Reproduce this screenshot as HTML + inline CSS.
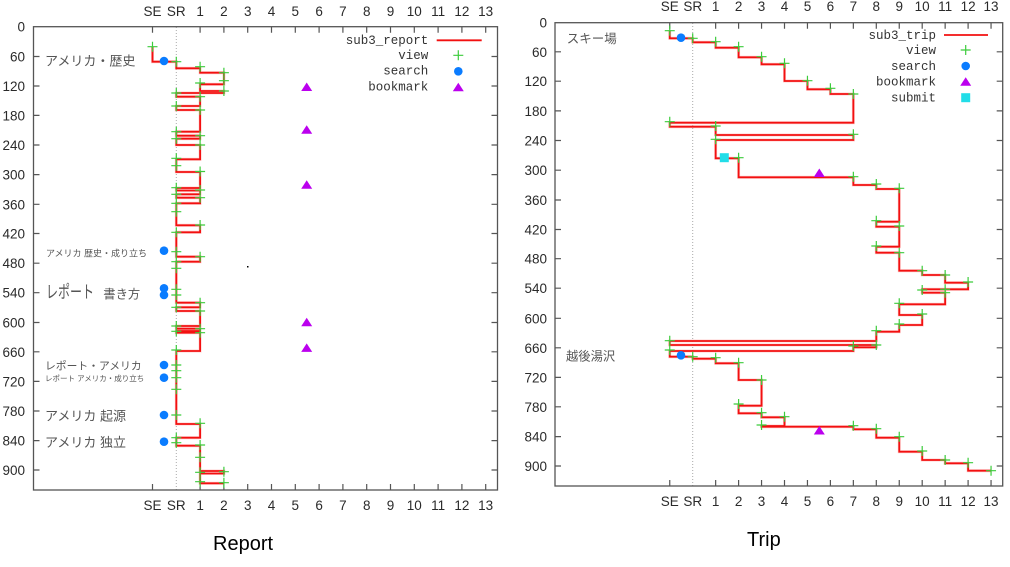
<!DOCTYPE html>
<html><head><meta charset="utf-8"><style>
html,body{margin:0;padding:0;background:#fff;}
svg{display:block;}
.t{font-family:"Liberation Sans",sans-serif;font-size:13.5px;fill:#2a2a2a;}
.lg{font-family:"Liberation Mono",monospace;font-size:12.5px;fill:#333;}
.jp{font-family:"Liberation Sans","Noto Sans CJK JP",sans-serif;fill:#555;}
.cap{font-family:"Liberation Sans",sans-serif;font-size:20px;fill:#000;}
</style></head><body>
<svg width="1010" height="567" viewBox="0 0 1010 567" xmlns="http://www.w3.org/2000/svg">
<defs>
<path id="pl" d="M-5 0h10M0 -5v10"/>
<path id="tr" d="M-5.5 4L5.5 4L0 -4.5Z"/>
</defs>
<rect width="1010" height="567" fill="#fff"/>

<!-- ============ LEFT PLOT ============ -->
<line x1="176.3" y1="27" x2="176.3" y2="490" stroke="#aaa" stroke-width="1" stroke-dasharray="1,2"/>
<rect x="33.5" y="26.7" width="464" height="463.3" fill="none" stroke="#555" stroke-width="1.3"/>
<path fill="none" stroke="#555" stroke-width="1.2" d="
M152.5 26.7v6M200.1 26.7v6M223.9 26.7v6M247.7 26.7v6M271.5 26.7v6M295.3 26.7v6M319.1 26.7v6M342.9 26.7v6M366.7 26.7v6M390.5 26.7v6M414.3 26.7v6M438.1 26.7v6M461.9 26.7v6M485.7 26.7v6
M152.5 490v-6M200.1 490v-6M223.9 490v-6M247.7 490v-6M271.5 490v-6M295.3 490v-6M319.1 490v-6M342.9 490v-6M366.7 490v-6M390.5 490v-6M414.3 490v-6M438.1 490v-6M461.9 490v-6M485.7 490v-6
M33.5 56.5h6M33.5 86h6M33.5 115.4h6M33.5 145h6M33.5 174.6h6M33.5 204.3h6M33.5 233.5h6M33.5 263.2h6M33.5 292.7h6M33.5 322.5h6M33.5 351.8h6M33.5 381.4h6M33.5 411h6M33.5 440.6h6M33.5 470h6
M497.5 56.5h-6M497.5 86h-6M497.5 115.4h-6M497.5 145h-6M497.5 174.6h-6M497.5 204.3h-6M497.5 233.5h-6M497.5 263.2h-6M497.5 292.7h-6M497.5 322.5h-6M497.5 351.8h-6M497.5 381.4h-6M497.5 411h-6M497.5 440.6h-6M497.5 470h-6"/>

<g class="t" text-anchor="end">
<text x="25" y="31.7">0</text><text x="25" y="61.5">60</text><text x="25" y="91">120</text><text x="25" y="120.4">180</text><text x="25" y="150">240</text><text x="25" y="179.6">300</text><text x="25" y="209.3">360</text><text x="25" y="238.5">420</text><text x="25" y="268.2">480</text><text x="25" y="297.7">540</text><text x="25" y="327.5">600</text><text x="25" y="356.8">660</text><text x="25" y="386.4">720</text><text x="25" y="416">780</text><text x="25" y="445.6">840</text><text x="25" y="475">900</text>
</g>
<g class="t" text-anchor="middle">
<text x="152.5" y="16">SE</text><text x="176.3" y="16">SR</text><text x="200.1" y="16">1</text><text x="223.9" y="16">2</text><text x="247.7" y="16">3</text><text x="271.5" y="16">4</text><text x="295.3" y="16">5</text><text x="319.1" y="16">6</text><text x="342.9" y="16">7</text><text x="366.7" y="16">8</text><text x="390.5" y="16">9</text><text x="414.3" y="16">10</text><text x="438.1" y="16">11</text><text x="461.9" y="16">12</text><text x="485.7" y="16">13</text>
<text x="152.5" y="510">SE</text><text x="176.3" y="510">SR</text><text x="200.1" y="510">1</text><text x="223.9" y="510">2</text><text x="247.7" y="510">3</text><text x="271.5" y="510">4</text><text x="295.3" y="510">5</text><text x="319.1" y="510">6</text><text x="342.9" y="510">7</text><text x="366.7" y="510">8</text><text x="390.5" y="510">9</text><text x="414.3" y="510">10</text><text x="438.1" y="510">11</text><text x="461.9" y="510">12</text><text x="485.7" y="510">13</text>
</g>

<!-- annotations left -->
<text class="jp" x="45" y="65.5" font-size="13">アメリカ・歴史</text>
<text class="jp" x="46" y="256.5" font-size="9">アメリカ 歴史・成り立ち</text>
<text class="jp" font-size="12" transform="translate(46,298) scale(1,1.45)">レポート</text>
<text class="jp" x="103.3" y="298.5" font-size="12.3">書き方</text>
<text class="jp" x="45" y="369.5" font-size="10.8">レポート・アメリカ</text>
<text class="jp" x="45" y="381" font-size="7.5">レポート アメリカ・成り立ち</text>
<text class="jp" x="45" y="420.5" font-size="13">アメリカ 起源</text>
<text class="jp" x="45" y="447" font-size="13">アメリカ 独立</text>

<!-- series left -->
<path fill="none" stroke="#ffb0b0" stroke-width="3" d="M152.5 46.7V61.7H176.3V68.3H200.1V72.7H223.9V84.3H200.1V91H223.9V93H176.3V96.7H200.1V106H176.3V110H200.1V131.7H176.3V135.7H200.1V138.7H176.3V145H200.1V159.3H176.3V172H200.1V188H176.3V190.5H200.1V194.3H176.3V197.7H200.1V203.3H176.3V225.3H200.1V232.3H176.3V256.7H200.1V261.7H176.3V302.7H200.1V307.3H176.3V311H200.1V326H176.3V328.7H200.1V331H176.3V332.7H200.1V351H176.3V424H200.1V437.7H176.3V445.7H200.1V471H223.9V473.5H200.1V483.3H223.9" opacity="0.6"/>
<path fill="none" stroke="#f21010" stroke-width="1.8" d="M152.5 46.7V61.7H176.3V68.3H200.1V72.7H223.9V84.3H200.1V91H223.9V93H176.3V96.7H200.1V106H176.3V110H200.1V131.7H176.3V135.7H200.1V138.7H176.3V145H200.1V159.3H176.3V172H200.1V188H176.3V190.5H200.1V194.3H176.3V197.7H200.1V203.3H176.3V225.3H200.1V232.3H176.3V256.7H200.1V261.7H176.3V302.7H200.1V307.3H176.3V311H200.1V326H176.3V328.7H200.1V331H176.3V332.7H200.1V351H176.3V424H200.1V437.7H176.3V445.7H200.1V471H223.9V473.5H200.1V483.3H223.9"/>
<g stroke="#3ccc3c" stroke-width="1.2" fill="none">
<use href="#pl" x="152.5" y="46.7"/><use href="#pl" x="176.3" y="61.7"/><use href="#pl" x="200.1" y="66.7"/><use href="#pl" x="223.9" y="72.7"/><use href="#pl" x="223.9" y="80.7"/><use href="#pl" x="200.1" y="83"/><use href="#pl" x="223.9" y="91"/><use href="#pl" x="176.3" y="93"/><use href="#pl" x="200.1" y="96.7"/><use href="#pl" x="176.3" y="106"/><use href="#pl" x="200.1" y="110"/><use href="#pl" x="176.3" y="131.7"/><use href="#pl" x="200.1" y="135.7"/><use href="#pl" x="176.3" y="138.7"/><use href="#pl" x="200.1" y="145"/><use href="#pl" x="176.3" y="158.3"/><use href="#pl" x="176.3" y="165.7"/><use href="#pl" x="200.1" y="171.5"/><use href="#pl" x="176.3" y="187.7"/><use href="#pl" x="200.1" y="190"/><use href="#pl" x="176.3" y="194.3"/><use href="#pl" x="200.1" y="197.7"/><use href="#pl" x="176.3" y="203.3"/><use href="#pl" x="176.3" y="211.7"/><use href="#pl" x="200.1" y="225"/><use href="#pl" x="176.3" y="232.3"/><use href="#pl" x="176.3" y="251.7"/><use href="#pl" x="200.1" y="256.7"/><use href="#pl" x="176.3" y="261.7"/><use href="#pl" x="176.3" y="268.3"/><use href="#pl" x="176.3" y="289.3"/><use href="#pl" x="176.3" y="295"/><use href="#pl" x="200.1" y="302.7"/><use href="#pl" x="176.3" y="307.3"/><use href="#pl" x="200.1" y="311"/><use href="#pl" x="176.3" y="326"/><use href="#pl" x="200.1" y="328.7"/><use href="#pl" x="176.3" y="331.3"/><use href="#pl" x="200.1" y="332.7"/><use href="#pl" x="176.3" y="350"/><use href="#pl" x="176.3" y="365"/><use href="#pl" x="176.3" y="370.7"/><use href="#pl" x="176.3" y="377.7"/><use href="#pl" x="176.3" y="389.3"/><use href="#pl" x="176.3" y="415"/><use href="#pl" x="200.1" y="423.3"/><use href="#pl" x="176.3" y="437.7"/><use href="#pl" x="176.3" y="442.7"/><use href="#pl" x="200.1" y="445"/><use href="#pl" x="200.1" y="457.3"/><use href="#pl" x="223.9" y="471.7"/><use href="#pl" x="200.1" y="472.3"/><use href="#pl" x="200.1" y="481.7"/><use href="#pl" x="223.9" y="482.7"/>
</g>
<g fill="#0a7cff">
<circle cx="164" cy="61" r="4.3"/><circle cx="164" cy="250.7" r="4.3"/><circle cx="164" cy="288.3" r="4.3"/><circle cx="164" cy="295" r="4.3"/><circle cx="164" cy="365" r="4.3"/><circle cx="164" cy="377.7" r="4.3"/><circle cx="164" cy="415" r="4.3"/><circle cx="164" cy="441.7" r="4.3"/>
</g>
<g fill="#bb00ee">
<use href="#tr" x="306.7" y="87"/><use href="#tr" x="306.7" y="129.7"/><use href="#tr" x="306.7" y="184.7"/><use href="#tr" x="306.7" y="322.2"/><use href="#tr" x="306.7" y="347.9"/>
</g>
<rect x="247" y="266" width="1.5" height="1.5" fill="#000"/>

<!-- legend left -->
<g class="lg" text-anchor="end">
<text x="428.3" y="44">sub3_report</text>
<text x="428.3" y="59">view</text>
<text x="428.3" y="74.7">search</text>
<text x="428.3" y="90.7">bookmark</text>
</g>
<line x1="436.7" y1="40.3" x2="481.7" y2="40.3" stroke="#f21010" stroke-width="1.8"/>
<use href="#pl" x="458.3" y="55.3" stroke="#3ccc3c" stroke-width="1.2"/>
<circle cx="458.3" cy="71.3" r="4.3" fill="#0a7cff"/>
<use href="#tr" x="458.3" y="87.3" fill="#bb00ee"/>

<text class="cap" x="213" y="550">Report</text>

<!-- ============ RIGHT PLOT ============ -->
<line x1="692.7" y1="23" x2="692.7" y2="486" stroke="#aaa" stroke-width="1" stroke-dasharray="1,2"/>
<rect x="555" y="22.7" width="447.7" height="463.3" fill="none" stroke="#555" stroke-width="1.3"/>
<path fill="none" stroke="#555" stroke-width="1.2" d="
M669.75 22.7v6M715.65 22.7v6M738.6 22.7v6M761.55 22.7v6M784.5 22.7v6M807.45 22.7v6M830.4 22.7v6M853.35 22.7v6M876.3 22.7v6M899.25 22.7v6M922.2 22.7v6M945.15 22.7v6M968.1 22.7v6M991.05 22.7v6
M669.75 486v-6M715.65 486v-6M738.6 486v-6M761.55 486v-6M784.5 486v-6M807.45 486v-6M830.4 486v-6M853.35 486v-6M876.3 486v-6M899.25 486v-6M922.2 486v-6M945.15 486v-6M968.1 486v-6M991.05 486v-6
M555 51.8h6M555 81.2h6M555 110.9h6M555 140.5h6M555 170.2h6M555 200h6M555 229.5h6M555 258.7h6M555 288.2h6M555 318.3h6M555 347.8h6M555 377.4h6M555 406.8h6M555 436.6h6M555 466h6
M1002.7 51.8h-6M1002.7 81.2h-6M1002.7 110.9h-6M1002.7 140.5h-6M1002.7 170.2h-6M1002.7 200h-6M1002.7 229.5h-6M1002.7 258.7h-6M1002.7 288.2h-6M1002.7 318.3h-6M1002.7 347.8h-6M1002.7 377.4h-6M1002.7 406.8h-6M1002.7 436.6h-6M1002.7 466h-6"/>

<g class="t" text-anchor="end">
<text x="547" y="27.7">0</text><text x="547" y="56.8">60</text><text x="547" y="86.2">120</text><text x="547" y="115.9">180</text><text x="547" y="145.5">240</text><text x="547" y="175.2">300</text><text x="547" y="205">360</text><text x="547" y="234.5">420</text><text x="547" y="263.7">480</text><text x="547" y="293.2">540</text><text x="547" y="323.3">600</text><text x="547" y="352.8">660</text><text x="547" y="382.4">720</text><text x="547" y="411.8">780</text><text x="547" y="441.6">840</text><text x="547" y="471">900</text>
</g>
<g class="t" text-anchor="middle">
<text x="669.75" y="11">SE</text><text x="692.7" y="11">SR</text><text x="715.65" y="11">1</text><text x="738.6" y="11">2</text><text x="761.55" y="11">3</text><text x="784.5" y="11">4</text><text x="807.45" y="11">5</text><text x="830.4" y="11">6</text><text x="853.35" y="11">7</text><text x="876.3" y="11">8</text><text x="899.25" y="11">9</text><text x="922.2" y="11">10</text><text x="945.15" y="11">11</text><text x="968.1" y="11">12</text><text x="991.05" y="11">13</text>
<text x="669.75" y="506">SE</text><text x="692.7" y="506">SR</text><text x="715.65" y="506">1</text><text x="738.6" y="506">2</text><text x="761.55" y="506">3</text><text x="784.5" y="506">4</text><text x="807.45" y="506">5</text><text x="830.4" y="506">6</text><text x="853.35" y="506">7</text><text x="876.3" y="506">8</text><text x="899.25" y="506">9</text><text x="922.2" y="506">10</text><text x="945.15" y="506">11</text><text x="968.1" y="506">12</text><text x="991.05" y="506">13</text>
</g>

<text class="jp" x="566.7" y="43" font-size="12.5">スキー場</text>
<text class="jp" x="566" y="360.5" font-size="12.3">越後湯沢</text>

<path fill="none" stroke="#ffb0b0" stroke-width="3" opacity="0.6" d="M669.75 30.7V38.3H692.7V42.3H715.65V47.7H738.6V57.3H761.55V64.3H784.5V81H807.45V89.3H830.4V94H853.35V122.7H669.75V126.7H715.65V135H853.35V140H715.65V158.3H738.6V177.3H853.35V185H876.3V189H899.25V221.7H876.3V226.7H899.25V246.7H876.3V252.7H899.25V270.7H922.2V275H945.15V282.7H968.1V289.3H922.2V292.7H945.15V304.3H899.25V315H922.2V325H899.25V331.7H876.3V341H669.75V345H876.3V347.3H853.35V351H669.75V356.7H692.7V358.7H715.65V363.3H738.6V380H761.55V405.7H738.6V413.3H761.55V417.3H784.5V426H761.55V426.7H853.35V429.3H876.3V437.7H899.25V451.7H922.2V460H945.15V463.3H968.1V470.7H991.05"/>
<path fill="none" stroke="#f21010" stroke-width="1.8" d="M669.75 30.7V38.3H692.7V42.3H715.65V47.7H738.6V57.3H761.55V64.3H784.5V81H807.45V89.3H830.4V94H853.35V122.7H669.75V126.7H715.65V135H853.35V140H715.65V158.3H738.6V177.3H853.35V185H876.3V189H899.25V221.7H876.3V226.7H899.25V246.7H876.3V252.7H899.25V270.7H922.2V275H945.15V282.7H968.1V289.3H922.2V292.7H945.15V304.3H899.25V315H922.2V325H899.25V331.7H876.3V341H669.75V345H876.3V347.3H853.35V351H669.75V356.7H692.7V358.7H715.65V363.3H738.6V380H761.55V405.7H738.6V413.3H761.55V417.3H784.5V426H761.55V426.7H853.35V429.3H876.3V437.7H899.25V451.7H922.2V460H945.15V463.3H968.1V470.7H991.05"/>
<g stroke="#3ccc3c" stroke-width="1.2" fill="none">
<use href="#pl" x="669.75" y="30.7"/><use href="#pl" x="692.7" y="38.3"/><use href="#pl" x="715.65" y="41.7"/><use href="#pl" x="738.6" y="46.7"/><use href="#pl" x="761.55" y="56.7"/><use href="#pl" x="784.5" y="63.3"/><use href="#pl" x="807.45" y="80.7"/><use href="#pl" x="830.4" y="88.3"/><use href="#pl" x="853.35" y="94"/><use href="#pl" x="669.75" y="121.7"/><use href="#pl" x="715.65" y="126"/><use href="#pl" x="853.35" y="134.3"/><use href="#pl" x="715.65" y="139.3"/><use href="#pl" x="738.6" y="157.7"/><use href="#pl" x="853.35" y="176.7"/><use href="#pl" x="876.3" y="184"/><use href="#pl" x="899.25" y="188.3"/><use href="#pl" x="876.3" y="220.7"/><use href="#pl" x="899.25" y="226"/><use href="#pl" x="876.3" y="246"/><use href="#pl" x="899.25" y="252.7"/><use href="#pl" x="922.2" y="270.7"/><use href="#pl" x="945.15" y="275"/><use href="#pl" x="968.1" y="282"/><use href="#pl" x="922.2" y="290"/><use href="#pl" x="945.15" y="289.3"/><use href="#pl" x="945.15" y="292.7"/><use href="#pl" x="899.25" y="303.3"/><use href="#pl" x="922.2" y="314"/><use href="#pl" x="899.25" y="324"/><use href="#pl" x="876.3" y="330.7"/><use href="#pl" x="669.75" y="340.7"/><use href="#pl" x="876.3" y="345"/><use href="#pl" x="853.35" y="346"/><use href="#pl" x="669.75" y="350"/><use href="#pl" x="692.7" y="356.7"/><use href="#pl" x="715.65" y="357.7"/><use href="#pl" x="738.6" y="362.7"/><use href="#pl" x="761.55" y="380"/><use href="#pl" x="738.6" y="404"/><use href="#pl" x="761.55" y="412.7"/><use href="#pl" x="784.5" y="416.7"/><use href="#pl" x="761.55" y="425"/><use href="#pl" x="853.35" y="425.7"/><use href="#pl" x="876.3" y="428.7"/><use href="#pl" x="899.25" y="436.7"/><use href="#pl" x="922.2" y="451"/><use href="#pl" x="945.15" y="460"/><use href="#pl" x="968.1" y="462.7"/><use href="#pl" x="991.05" y="470.7"/>
</g>
<g fill="#0a7cff">
<circle cx="681" cy="37.7" r="4.3"/><circle cx="681" cy="355.3" r="4.3"/>
</g>
<rect x="719.8" y="153.2" width="9" height="9" fill="#22dde8"/>
<g fill="#bb00ee">
<use href="#tr" x="819.3" y="173"/><use href="#tr" x="819.3" y="430.5"/>
</g>

<!-- legend right -->
<g class="lg" text-anchor="end">
<text x="936" y="39">sub3_trip</text>
<text x="936" y="54">view</text>
<text x="936" y="70">search</text>
<text x="936" y="85.7">bookmark</text>
<text x="936" y="101.7">submit</text>
</g>
<line x1="944" y1="35" x2="988" y2="35" stroke="#f21010" stroke-width="1.8"/>
<use href="#pl" x="965.7" y="50" stroke="#3ccc3c" stroke-width="1.2"/>
<circle cx="965.7" cy="66" r="4.3" fill="#0a7cff"/>
<use href="#tr" x="965.7" y="81.7" fill="#bb00ee"/>
<rect x="961.2" y="93.2" width="9" height="9" fill="#22dde8"/>

<text class="cap" x="747" y="546">Trip</text>
</svg>
</body></html>
